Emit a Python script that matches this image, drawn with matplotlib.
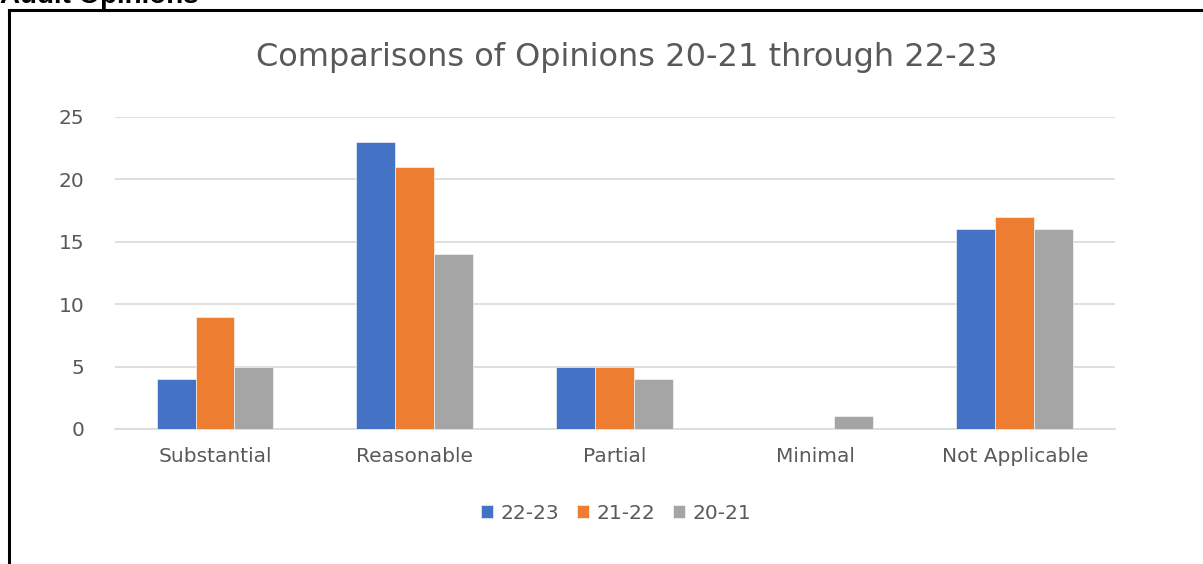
import numpy as np
import matplotlib.pyplot as plt
from matplotlib.lines import Line2D

categories = ['Substantial', 'Reasonable', 'Partial', 'Minimal', 'Not Applicable']
series_names = ['22-23', '21-22', '20-21']
v_22_23 = [4, 23, 5, 0, 16]
v_21_22 = [9, 21, 5, 0, 17]
v_20_21 = [5, 14, 4, 1, 16]
colors = ['#4472C4', '#ED7D31', '#A5A5A5']

fig = plt.figure(figsize=(12.03, 5.64), dpi=100)
ax = fig.add_axes([0.0956, 0.2394, 0.8312, 0.5532])

x = np.arange(len(categories))
w = 0.195
for i, (vals, name) in enumerate(zip([v_22_23, v_21_22, v_20_21], series_names)):
    ax.bar(x + (i - 1) * w, vals, w, color=colors[i], label=name,
           edgecolor='white', linewidth=0.4, zorder=3)

ax.set_xlim(-0.5, len(categories) - 0.5)
ax.set_ylim(0, 25)
ax.set_yticks(range(0, 26, 5))
ax.set_xticks(x)
ax.set_xticklabels(categories)
ax.tick_params(axis='both', length=0, colors='#595959', labelsize=14.5)
ax.tick_params(axis='x', pad=13)
ax.tick_params(axis='y', pad=22)
ax.grid(axis='y', color='#d9d9d9', linewidth=1.2, zorder=0)
for s in ['top', 'right', 'left']:
    ax.spines[s].set_visible(False)
ax.spines['bottom'].set_color('#d9d9d9')
ax.spines['bottom'].set_linewidth(1.2)

fig.text(0.521, 0.898, 'Comparisons of Opinions 20-21 through 22-23',
         ha='center', va='center', fontsize=23, color='#595959')

fig.legend(loc='center', bbox_to_anchor=(0.512, 0.09), ncol=3, frameon=False,
           fontsize=14.5, handlelength=0.6, handleheight=0.6, columnspacing=0.9,
           handletextpad=0.35, labelcolor='#595959')

# cropped heading above the frame
fig.text(0.0, 0.994, 'Audit Opinions', fontsize=20, fontweight='bold',
         family='Liberation Sans', va='baseline', ha='left')

# frame lines (left and top)
fig.add_artist(Line2D([0.0075, 1.0], [0.982, 0.982], color='black', linewidth=2.2,
                      transform=fig.transFigure))
fig.add_artist(Line2D([0.0075, 0.0075], [0.0, 0.982], color='black', linewidth=2.2,
                      transform=fig.transFigure))

fig.savefig('out.png', dpi=100)
